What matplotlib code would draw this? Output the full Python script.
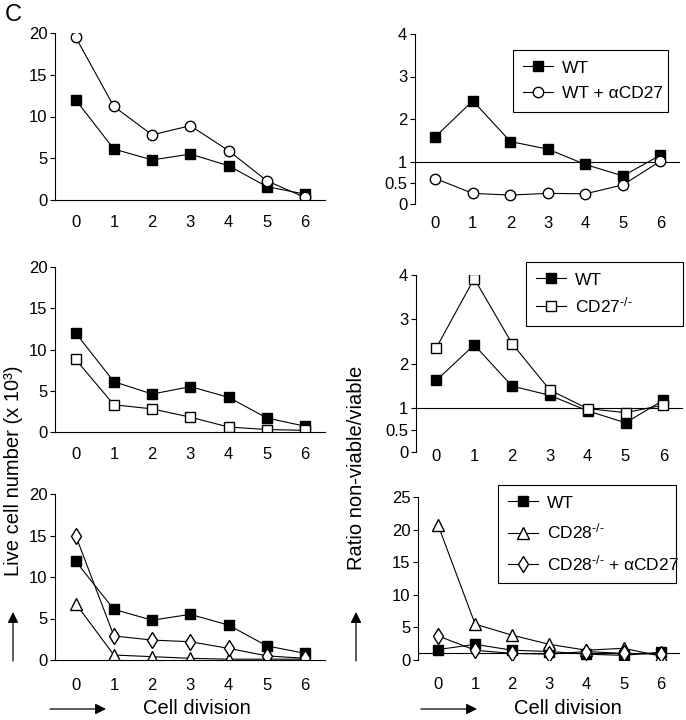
import matplotlib
matplotlib.use('Agg')
from matplotlib import pyplot as plt

plt.rcParams['font.family'] = ['Liberation Sans', 'DejaVu Sans']
plt.rcParams['mathtext.fontset'] = 'custom'
plt.rcParams['mathtext.rm'] = 'Liberation Sans'
plt.rcParams['mathtext.default'] = 'regular'

divisions = [0, 1, 2, 3, 4, 5, 6]

# live cell numbers (x 10^3)
live_wt_a = [12.0, 6.1, 4.8, 5.5, 4.1, 1.6, 0.7]
live_wt_acd27 = [19.5, 11.2, 7.8, 8.9, 5.9, 2.3, 0.3]
live_wt_b = [12.0, 6.1, 4.6, 5.5, 4.2, 1.7, 0.7]
live_cd27ko = [8.8, 3.3, 2.8, 1.8, 0.6, 0.3, 0.2]
live_wt_c = [11.9, 6.1, 4.8, 5.5, 4.2, 1.7, 0.8]
live_cd28ko = [6.8, 0.6, 0.4, 0.2, 0.1, 0.1, 0.1]
live_cd28ko_acd27 = [15.0, 2.9, 2.4, 2.2, 1.4, 0.5, 0.2]

# ratio non-viable / viable
ratio_wt_a = [1.58, 2.43, 1.47, 1.29, 0.93, 0.66, 1.15]
ratio_wt_acd27 = [0.60, 0.25, 0.21, 0.25, 0.24, 0.45, 1.01]
ratio_wt_b = [1.62, 2.42, 1.49, 1.28, 0.93, 0.66, 1.17]
ratio_cd27ko = [2.36, 3.92, 2.45, 1.40, 0.98, 0.89, 1.06]
ratio_wt_c = [1.6, 2.4, 1.5, 1.3, 0.9, 0.7, 1.2]
ratio_cd28ko = [20.7, 5.5, 3.8, 2.4, 1.5, 1.8, 0.6]
ratio_cd28ko_acd27 = [3.7, 1.5, 1.0, 0.9, 1.3, 1.0, 0.9]

KO = r'$^{\text{-/-}}$'

W, H = 686, 720
fig = plt.figure(figsize=(W / 100, H / 100), dpi=100)


def px_axes(x0, x1, ytop, ybot):
    return fig.add_axes([x0 / W, 1 - ybot / H, (x1 - x0) / W, (ybot - ytop) / H])


def style(ax, yticks, ylim, xpad, bottom_spine=True):
    ax.set_xlim(-0.54, 6.52)
    ax.set_ylim(*ylim)
    ax.set_xticks(divisions)
    ax.set_yticks(yticks)
    ax.set_yticklabels([('%g' % t) for t in yticks])
    for s in ['top', 'right']:
        ax.spines[s].set_visible(False)
    ax.spines['bottom'].set_visible(bottom_spine)
    ax.spines['left'].set_linewidth(0.8)
    ax.spines['bottom'].set_linewidth(0.8)
    ax.tick_params(axis='x', length=0, pad=xpad, labelsize=12)
    ax.tick_params(axis='y', length=3.5, width=0.8, pad=2, labelsize=12)
    ax.patch.set_visible(False)


sq = dict(color='black', marker='s', markersize=7.5, mfc='black', mec='black', lw=0.8)
circ = dict(color='black', marker='o', markersize=7.5, mfc='white', mec='black', lw=0.8)
osq = dict(color='black', marker='s', markersize=7.5, mfc='white', mec='black', lw=0.8)
tri = dict(color='black', marker='^', markersize=8.5, mfc='white', mec='black', lw=0.8)
dia = dict(color='black', marker='d', markersize=8, mfc='white', mec='black', lw=0.8)


def legend(ax, x0, x1, y, spacing):
    lg = ax.legend(loc='upper left',
                   bbox_to_anchor=(x0 / W, 1 - y / H - 0.01, (x1 - x0) / W, 0.01),
                   bbox_transform=fig.transFigure, mode='expand', fontsize=12.5, frameon=True,
                   fancybox=False, edgecolor='black', framealpha=1,
                   handlelength=1.7, handletextpad=0.5, labelspacing=spacing,
                   borderpad=0.6, borderaxespad=0)
    lg.get_frame().set_linewidth(0.8)


# top left
ax = px_axes(55, 325, 33, 200)
ax.plot(divisions, live_wt_a, **sq)
ax.plot(divisions, live_wt_acd27, **circ)
style(ax, [0, 5, 10, 15, 20], (0, 20), 11)

# top right
ax = px_axes(415, 680, 34, 204)
ax.axhline(1, color='black', lw=0.8)
ax.plot(divisions, ratio_wt_a, label='WT', **sq)
ax.plot(divisions, ratio_wt_acd27, label='WT + αCD27', **circ)
style(ax, [0, 0.5, 1, 2, 3, 4], (0, 4), 9, bottom_spine=False)
legend(ax, 513, 668, 50, 0.6)

# middle left
ax = px_axes(55, 325, 267, 432)
ax.plot(divisions, live_wt_b, **sq)
ax.plot(divisions, live_cd27ko, **osq)
style(ax, [0, 5, 10, 15, 20], (0, 20), 11)

# middle right
ax = px_axes(416, 683, 275, 452)
ax.axhline(1, color='black', lw=0.8)
ax.plot(divisions, ratio_wt_b, label='WT', **sq)
ax.plot(divisions, ratio_cd27ko, label='CD27' + KO, **osq)
style(ax, [0, 0.5, 1, 2, 3, 4], (0, 4), -2, bottom_spine=False)
legend(ax, 526, 683, 262, 0.45)

# bottom left
ax = px_axes(55, 325, 494, 660)
ax.plot(divisions, live_wt_c, **sq)
ax.plot(divisions, live_cd28ko, **tri)
ax.plot(divisions, live_cd28ko_acd27, **dia)
style(ax, [0, 5, 10, 15, 20], (0, 20), 13)

# bottom right
ax = px_axes(418, 680, 497, 660)
ax.axhline(1, color='black', lw=0.8)
ax.plot(divisions, ratio_wt_c, label='WT', **sq)
ax.plot(divisions, ratio_cd28ko, label='CD28' + KO, **tri)
ax.plot(divisions, ratio_cd28ko_acd27, label='CD28' + KO + ' + αCD27', **dia)
style(ax, [0, 5, 10, 15, 20, 25], (0, 25), 12, bottom_spine=False)
legend(ax, 498, 676, 485, 0.65)

# labels and arrows
fig.text(5 / W, 1 - 4 / H, 'C', fontsize=17, ha='left', va='top')
fig.text(14 / W, 1 - 471 / H, 'Live cell number (x 10³)', fontsize=14.5,
         rotation=90, ha='center', va='center')
fig.text(356 / W, 1 - 468 / H, 'Ratio non-viable/viable', fontsize=14.5,
         rotation=90, ha='center', va='center')
fig.text(197 / W, 1 - 709 / H, 'Cell division', fontsize=14.5, ha='center', va='center')
fig.text(568 / W, 1 - 709 / H, 'Cell division', fontsize=14.5, ha='center', va='center')

arrow = dict(arrowstyle='-|>', color='black', lw=0.9, mutation_scale=16, shrinkA=0, shrinkB=0)
for x0, x1 in [(50, 106), (421, 477)]:
    fig.add_artist(matplotlib.patches.FancyArrowPatch(
        (x0 / W, 1 - 709 / H), (x1 / W, 1 - 709 / H), transform=fig.transFigure, **arrow))
for x in [13, 356]:
    fig.add_artist(matplotlib.patches.FancyArrowPatch(
        (x / W, 1 - 661 / H), (x / W, 1 - 612 / H), transform=fig.transFigure, **arrow))

plt.savefig('out.png', dpi=100)
